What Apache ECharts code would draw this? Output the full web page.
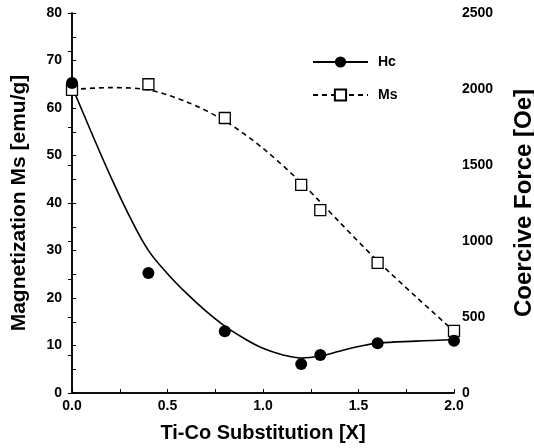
<!DOCTYPE html>
<html>
<head>
<meta charset="utf-8">
<script src="https://cdn.jsdelivr.net/npm/echarts@6/dist/echarts.min.js"></script>
<style>
    html, body { margin: 0; padding: 0; background: #fff; }
    #chart { width: 534px; height: 448px; }
</style>
</head>
<body>
<div id="chart"></div>
<script>
// measured points
var xPoints = [0, 0.4, 0.8, 1.2, 1.3, 1.6, 2.0];
var hcPoints = [2040, 790, 406, 190, 250, 328, 344];      // Oe
var msPoints = [63.8, 65, 57.9, 43.8, 38.5, 27.4, 13.1];  // emu/g

// fitted curves
var hcCurveX = [0, 0.1, 0.2, 0.3, 0.4, 0.5, 0.6, 0.7, 0.8, 0.9, 1.0, 1.1, 1.2, 1.3, 1.4, 1.5, 1.6, 1.8, 2.0];
var hcCurve = [2016, 1719, 1431, 1166, 938, 785, 655, 540, 440, 360, 294, 252, 230, 243, 275, 306, 328, 341, 350];
var msCurveX = [0, 0.2, 0.4, 0.6, 0.8, 1.0, 1.2, 1.3, 1.4, 1.6, 1.8, 2.0];
var msCurve = [63.9, 64.3, 63.8, 61.3, 57.3, 51.5, 44.3, 40.2, 36, 27.8, 20.3, 13];

// tick label lists (ticks in between stay unlabeled)
var xTickLabels = ['0.0', '0.5', '1.0', '1.5', '2.0'];
var msTickLabels = ['0', '10', '20', '30', '40', '50', '60', '70', '80'];
var hcTickLabels = ['0', '500', '1000', '1500', '2000', '2500'];

function pairs(xs, ys) {
    return xs.map(function (x, i) { return [x, ys[i]]; });
}

function onlyListed(list, digits) {
    return function (v) {
        var s = v.toFixed(digits);
        return list.indexOf(s) >= 0 ? s : '';
    };
}

var font = 'Liberation Sans, Arial, sans-serif';
var black = '#000';
var tick = { inside: true, length: 4, lineStyle: { color: black, width: 1 } };
var labelStyle = { fontFamily: font, fontWeight: 'bold', fontSize: 14, color: black };

var chart = echarts.init(document.getElementById('chart'));

var option = {
    animation: false,
    grid: { left: 72, right: 80, top: 13, bottom: 55, outerBoundsMode: 'none' },
    legend: {
        orient: 'vertical',
        left: 312,
        top: 55,
        padding: 0,
        itemWidth: 55,
        itemHeight: 14,
        itemGap: 19,
        data: ['Hc', 'Ms'],
        textStyle: { fontFamily: font, fontWeight: 'bold', fontSize: 14, color: black, padding: [0, 0, 0, 5] }
    },
    xAxis: [
        {
            type: 'value',
            min: 0,
            max: 2,
            interval: 0.25,
            name: 'Ti-Co Substitution [X]',
            nameLocation: 'middle',
            nameGap: 30,
            nameTextStyle: { fontFamily: font, fontWeight: 'bold', fontSize: 20, color: black },
            axisLine: { lineStyle: { color: black, width: 1.5 } },
            axisTick: tick,
            splitLine: { show: false },
            axisLabel: Object.assign({ margin: 6, formatter: onlyListed(xTickLabels, 1) }, labelStyle)
        },
        {
            type: 'value',
            position: 'top',
            min: 0,
            max: 2,
            axisLine: { lineStyle: { color: black, width: 1.5 } },
            axisTick: { show: false },
            axisLabel: { show: false },
            splitLine: { show: false }
        }
    ],
    yAxis: [
        {
            type: 'value',
            min: 0,
            max: 80,
            interval: 5,
            name: 'Magnetization Ms [emu/g]',
            nameLocation: 'middle',
            nameGap: 42,
            nameTextStyle: { fontFamily: font, fontWeight: 'bold', fontSize: 21, color: black },
            axisLine: { show: true, lineStyle: { color: black, width: 1.5 } },
            axisTick: tick,
            splitLine: { show: false },
            axisLabel: Object.assign({ margin: 10, formatter: onlyListed(msTickLabels, 0) }, labelStyle)
        },
        {
            type: 'value',
            min: 0,
            max: 2500,
            interval: 250,
            name: 'Coercive Force [Oe]',
            nameLocation: 'middle',
            nameGap: 58,
            nameRotate: 90,
            nameTextStyle: { fontFamily: font, fontWeight: 'bold', fontSize: 24, color: black },
            axisLine: { show: true, lineStyle: { color: black, width: 1.5 } },
            axisTick: tick,
            splitLine: { show: false },
            axisLabel: Object.assign({ margin: 8, formatter: onlyListed(hcTickLabels, 0) }, labelStyle)
        }
    ],
    series: [
        {
            name: 'Ms',
            type: 'line',
            yAxisIndex: 0,
            smooth: 0.3,
            showSymbol: false,
            symbol: 'rect',
            symbolSize: 11,
            itemStyle: { color: '#fff', borderColor: black, borderWidth: 1.3 },
            lineStyle: { color: black, width: 1.6, type: [5, 4] },
            data: pairs(msCurveX, msCurve),
            z: 2
        },
        {
            name: 'Hc',
            type: 'line',
            yAxisIndex: 1,
            smooth: 0.4,
            showSymbol: false,
            symbol: 'circle',
            symbolSize: 12,
            itemStyle: { color: black },
            lineStyle: { color: black, width: 1.6 },
            data: pairs(hcCurveX, hcCurve),
            z: 2
        },
        {
            name: 'Ms',
            type: 'scatter',
            yAxisIndex: 0,
            symbol: 'rect',
            symbolSize: 11,
            itemStyle: { color: '#fff', borderColor: black, borderWidth: 1.3, opacity: 1 },
            data: pairs(xPoints, msPoints),
            z: 3
        },
        {
            name: 'Hc',
            type: 'scatter',
            yAxisIndex: 1,
            symbol: 'circle',
            symbolSize: 12,
            itemStyle: { color: black, opacity: 1 },
            data: pairs(xPoints, hcPoints),
            z: 4
        }
    ]
};

chart.setOption(option);
</script>
</body>
</html>
